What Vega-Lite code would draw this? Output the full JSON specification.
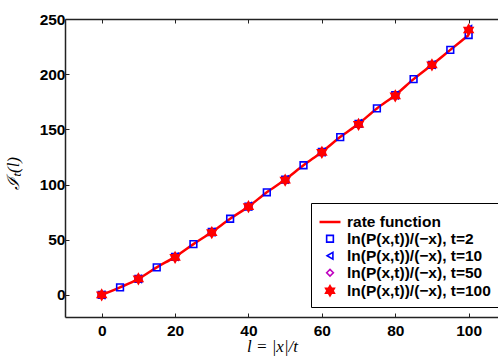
{
  "$schema": "https://vega.github.io/schema/vega-lite/v6.json",
  "autosize": {"type": "none"},
  "width": 433,
  "height": 298,
  "padding": {"left": 65, "top": 19, "right": 0, "bottom": 39},
  "background": "white",
  "config": {
    "view": {"stroke": null},
    "axis": {
      "domainColor": "#222", "domainWidth": 1.5, "tickColor": "#222", "tickWidth": 1,
      "tickSize": -4, "grid": false,
      "labelFont": "Liberation Sans", "labelFontWeight": "bold", "labelFontSize": 15.5, "labelColor": "black",
      "titleFont": "Liberation Serif", "titleFontStyle": "italic", "titleFontWeight": "normal", "titleFontSize": 16, "titleColor": "black"
    },
    "legend": {
      "labelFont": "Liberation Sans", "labelFontWeight": "bold", "labelFontSize": 15.5, "labelColor": "black",
      "labelLimit": 300
    }
  },
  "datasets": {
    "rate": [
      {"l": 0, "v": 0}, {"l": 5, "v": 6.8}, {"l": 10, "v": 14.5}, {"l": 15, "v": 25}, {"l": 20, "v": 34.5},
      {"l": 25, "v": 46}, {"l": 30, "v": 57}, {"l": 35, "v": 69}, {"l": 40, "v": 80}, {"l": 45, "v": 93},
      {"l": 50, "v": 104.5}, {"l": 55, "v": 117.5}, {"l": 60, "v": 129.5}, {"l": 65, "v": 143}, {"l": 70, "v": 155},
      {"l": 75, "v": 169}, {"l": 80, "v": 181}, {"l": 85, "v": 195.5}, {"l": 90, "v": 208.5}, {"l": 95, "v": 222},
      {"l": 100, "v": 235.5}
    ],
    "pts": [
      {"s": "ln(P(x,t))/(−x), t=2", "l": 0, "v": 0}, {"s": "ln(P(x,t))/(−x), t=2", "l": 5, "v": 6.8},
      {"s": "ln(P(x,t))/(−x), t=2", "l": 10, "v": 14.5}, {"s": "ln(P(x,t))/(−x), t=2", "l": 15, "v": 25},
      {"s": "ln(P(x,t))/(−x), t=2", "l": 20, "v": 34.5}, {"s": "ln(P(x,t))/(−x), t=2", "l": 25, "v": 46},
      {"s": "ln(P(x,t))/(−x), t=2", "l": 30, "v": 57}, {"s": "ln(P(x,t))/(−x), t=2", "l": 35, "v": 69},
      {"s": "ln(P(x,t))/(−x), t=2", "l": 40, "v": 80}, {"s": "ln(P(x,t))/(−x), t=2", "l": 45, "v": 93},
      {"s": "ln(P(x,t))/(−x), t=2", "l": 50, "v": 104.5}, {"s": "ln(P(x,t))/(−x), t=2", "l": 55, "v": 117.5},
      {"s": "ln(P(x,t))/(−x), t=2", "l": 60, "v": 129.5}, {"s": "ln(P(x,t))/(−x), t=2", "l": 65, "v": 143},
      {"s": "ln(P(x,t))/(−x), t=2", "l": 70, "v": 155}, {"s": "ln(P(x,t))/(−x), t=2", "l": 75, "v": 169},
      {"s": "ln(P(x,t))/(−x), t=2", "l": 80, "v": 181}, {"s": "ln(P(x,t))/(−x), t=2", "l": 85, "v": 195.5},
      {"s": "ln(P(x,t))/(−x), t=2", "l": 90, "v": 208.5}, {"s": "ln(P(x,t))/(−x), t=2", "l": 95, "v": 222},
      {"s": "ln(P(x,t))/(−x), t=2", "l": 100, "v": 235.5},
      {"s": "ln(P(x,t))/(−x), t=10", "l": 0, "v": 0}, {"s": "ln(P(x,t))/(−x), t=10", "l": 10, "v": 14.5},
      {"s": "ln(P(x,t))/(−x), t=10", "l": 20, "v": 34.5}, {"s": "ln(P(x,t))/(−x), t=10", "l": 30, "v": 57},
      {"s": "ln(P(x,t))/(−x), t=10", "l": 40, "v": 80.5}, {"s": "ln(P(x,t))/(−x), t=10", "l": 50, "v": 104.5},
      {"s": "ln(P(x,t))/(−x), t=10", "l": 60, "v": 129.5}, {"s": "ln(P(x,t))/(−x), t=10", "l": 70, "v": 155.5},
      {"s": "ln(P(x,t))/(−x), t=10", "l": 80, "v": 181}, {"s": "ln(P(x,t))/(−x), t=10", "l": 90, "v": 208.5},
      {"s": "ln(P(x,t))/(−x), t=10", "l": 100, "v": 241},
      {"s": "ln(P(x,t))/(−x), t=50", "l": 0, "v": 0}, {"s": "ln(P(x,t))/(−x), t=50", "l": 10, "v": 14.5},
      {"s": "ln(P(x,t))/(−x), t=50", "l": 20, "v": 34.5}, {"s": "ln(P(x,t))/(−x), t=50", "l": 30, "v": 56.5},
      {"s": "ln(P(x,t))/(−x), t=50", "l": 40, "v": 80}, {"s": "ln(P(x,t))/(−x), t=50", "l": 50, "v": 104},
      {"s": "ln(P(x,t))/(−x), t=50", "l": 60, "v": 129}, {"s": "ln(P(x,t))/(−x), t=50", "l": 70, "v": 154.5},
      {"s": "ln(P(x,t))/(−x), t=50", "l": 80, "v": 180.5}, {"s": "ln(P(x,t))/(−x), t=50", "l": 90, "v": 208.5},
      {"s": "ln(P(x,t))/(−x), t=50", "l": 100, "v": 240},
      {"s": "ln(P(x,t))/(−x), t=100", "l": 0, "v": 0}, {"s": "ln(P(x,t))/(−x), t=100", "l": 10, "v": 14.5},
      {"s": "ln(P(x,t))/(−x), t=100", "l": 20, "v": 34}, {"s": "ln(P(x,t))/(−x), t=100", "l": 30, "v": 56.5},
      {"s": "ln(P(x,t))/(−x), t=100", "l": 40, "v": 80}, {"s": "ln(P(x,t))/(−x), t=100", "l": 50, "v": 104},
      {"s": "ln(P(x,t))/(−x), t=100", "l": 60, "v": 129.2}, {"s": "ln(P(x,t))/(−x), t=100", "l": 70, "v": 154.5},
      {"s": "ln(P(x,t))/(−x), t=100", "l": 80, "v": 180.4}, {"s": "ln(P(x,t))/(−x), t=100", "l": 90, "v": 208.4},
      {"s": "ln(P(x,t))/(−x), t=100", "l": 100, "v": 240}
    ]
  },
  "layer": [
    {
      "data": {"name": "rate"},
      "mark": {"type": "line", "color": "#ff0000", "strokeWidth": 2.5, "interpolate": "monotone"},
      "encoding": {
        "x": {"field": "l", "type": "quantitative",
          "scale": {"domain": [-10, 108], "nice": false, "zero": false},
          "axis": {"values": [0, 20, 40, 60, 80, 100], "title": "l = |x|/t", "labelPadding": 10, "labelFontWeight": "bold",
            "titleFontSize": 17, "titleX": 207, "titleY": 34, "titleAlign": "center", "titleBaseline": "alphabetic"}},
        "y": {"field": "v", "type": "quantitative",
          "scale": {"domain": [-20, 250], "nice": false, "zero": false},
          "axis": {"values": [0, 50, 100, 150, 200, 250], "title": "ℐₜ(l)", "labelPadding": 4, "labelFontWeight": "bold",
            "titleFontSize": 17, "titleX": -47, "titleY": 154, "titleAlign": "center", "titleBaseline": "alphabetic", "titleAngle": -90}}
      }
    },
    {
      "data": {"name": "pts"},
      "mark": {"type": "point", "opacity": 1},
      "encoding": {
        "x": {"field": "l", "type": "quantitative",
          "axis": {"orient": "top", "values": [0, 20, 40, 60, 80, 100], "labels": false, "title": null}},
        "y": {"field": "v", "type": "quantitative"},
        "stroke": {"field": "s", "type": "nominal", "sort": null,
          "scale": {"type": "ordinal", "domain": ["rate function", "ln(P(x,t))/(−x), t=2", "ln(P(x,t))/(−x), t=10", "ln(P(x,t))/(−x), t=50", "ln(P(x,t))/(−x), t=100"],
            "range": ["#ff0000", "#0000ff", "#0000ff", "#bf00bf", "#ff0000"]},
          "legend": {"title": null, "orient": "none", "legendX": 246, "legendY": 184,
            "strokeColor": "black", "fillColor": "white", "padding": 7, "rowPadding": 0, "labelOffset": 5}},
        "fill": {"field": "s", "type": "nominal", "sort": null,
          "scale": {"type": "ordinal", "domain": ["rate function", "ln(P(x,t))/(−x), t=2", "ln(P(x,t))/(−x), t=10", "ln(P(x,t))/(−x), t=50", "ln(P(x,t))/(−x), t=100"],
            "range": ["transparent", "transparent", "transparent", "transparent", "#ff0000"]}},
        "size": {"field": "s", "type": "nominal", "sort": null,
          "scale": {"type": "ordinal", "domain": ["rate function", "ln(P(x,t))/(−x), t=2", "ln(P(x,t))/(−x), t=10", "ln(P(x,t))/(−x), t=50", "ln(P(x,t))/(−x), t=100"],
            "range": [440, 45, 45, 45, 85]}},
        "strokeWidth": {"field": "s", "type": "nominal", "sort": null,
          "scale": {"type": "ordinal", "domain": ["rate function", "ln(P(x,t))/(−x), t=2", "ln(P(x,t))/(−x), t=10", "ln(P(x,t))/(−x), t=50", "ln(P(x,t))/(−x), t=100"],
            "range": [2.5, 1.6, 1.6, 1.6, 1.6]}},
        "shape": {"field": "s", "type": "nominal", "sort": null,
          "scale": {"type": "ordinal", "domain": ["rate function", "ln(P(x,t))/(−x), t=2", "ln(P(x,t))/(−x), t=10", "ln(P(x,t))/(−x), t=50", "ln(P(x,t))/(−x), t=100"],
            "range": ["stroke", "square", "triangle-left", "diamond", "M0,-1.1L0.32,-0.55L0.95,-0.55L0.64,0L0.95,0.55L0.32,0.55L0,1.1L-0.32,0.55L-0.95,0.55L-0.64,0L-0.95,-0.55L-0.32,-0.55Z"]}}
      }
    }
  ],
  "resolve": {"axis": {"x": "independent"}}
}
